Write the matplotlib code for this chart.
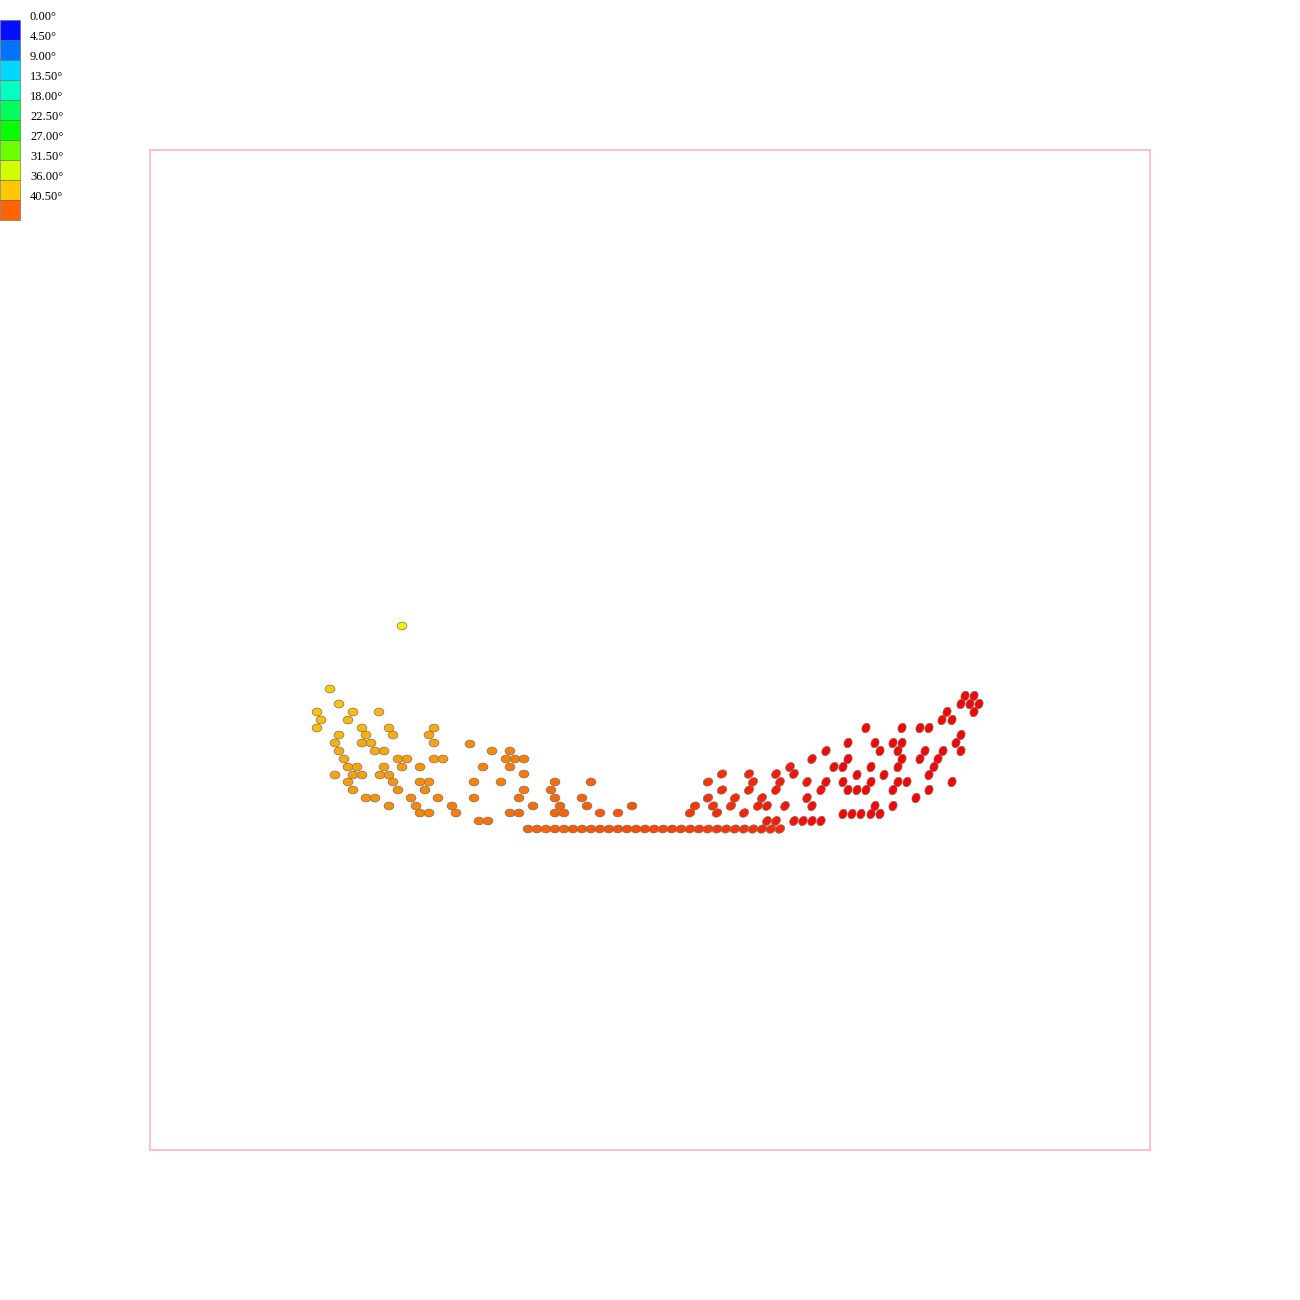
import numpy as np
import matplotlib
matplotlib.use("Agg")
import matplotlib.pyplot as plt
from matplotlib.collections import EllipseCollection
from matplotlib.colors import ListedColormap, Normalize
from matplotlib.patches import Rectangle

# ---------------- data ----------------
legend_labels = ["0.00°", "4.50°", "9.00°", "13.50°", "18.00°", "22.50°",
                 "27.00°", "31.50°", "36.00°", "40.50°"]
legend_starts = [0.0, 4.5, 9.0, 13.5, 18.0, 22.5, 27.0, 31.5, 36.0, 40.5]

# left (yellow / orange) cluster
x_left = [402, 330, 339, 317, 353, 379, 321, 348, 317, 362, 389, 434, 339, 366, 393, 429,
          335, 362, 371, 434, 339, 375, 384, 344, 398, 407, 434, 443, 348, 357, 384, 402,
          420, 335, 353, 362, 380, 389, 348, 393, 420, 429, 353, 398, 425, 366, 375, 411,
          438, 389, 416, 452, 420, 429, 456]
y_left = [626, 689, 704, 712, 712, 712, 720, 720, 728, 728, 728, 728, 735, 735, 735, 735,
          743, 743, 743, 743, 751, 751, 751, 759, 759, 759, 759, 759, 767, 767, 767, 767,
          767, 775, 775, 775, 775, 775, 782, 782, 782, 782, 790, 790, 790, 798, 798, 798,
          798, 806, 806, 806, 813, 813, 813]
v_left = [34.2, 35.8, 36.1, 36.2, 36.4, 36.7, 36.4, 36.6, 36.5, 36.8, 37.0, 37.3, 36.8, 37.0, 37.2, 37.4,
          36.9, 37.1, 37.2, 37.6, 37.1, 37.3, 37.4, 37.3, 37.7, 37.8, 38.0, 38.1, 37.5, 37.6, 37.8, 38.0,
          38.2, 37.5, 37.7, 37.8, 38.0, 38.1, 37.8, 38.3, 38.5, 38.6, 38.0, 38.5, 38.7, 38.3, 38.4, 38.7,
          38.9, 38.6, 38.8, 39.2, 39.0, 39.1, 39.3]

# middle (orange) scatter
x_mid = [470, 492, 510, 506, 515, 524, 483, 510, 524, 474, 501, 555, 591, 524, 551, 474,
         519, 555, 582, 533, 560, 587, 632, 510, 519, 555, 564, 600, 618, 479, 488]
y_mid = [744, 751, 751, 759, 759, 759, 767, 767, 774, 782, 782, 782, 782, 790, 790, 798,
         798, 798, 798, 806, 806, 806, 806, 813, 813, 813, 813, 813, 813, 821, 821]
v_mid = [38.6, 38.9, 39.1, 39.1, 39.2, 39.3, 39.0, 39.3, 39.5, 39.1, 39.4, 40.0, 40.4, 39.7, 40.0, 39.3,
         39.8, 40.2, 40.5, 40.0, 40.3, 40.6, 41.1, 39.9, 40.0, 40.4, 40.5, 40.9, 41.1, 39.7, 39.8]

# bottom row
x_bottom = [528, 537, 546, 555, 564, 573, 582, 591, 600, 609, 618, 627, 636, 645, 654,
            663, 672, 681, 690, 699, 708, 717, 726, 735, 744, 753, 762, 771, 780]
y_bottom = [829] * 29
v_bottom = [40.3, 40.4, 40.5, 40.6, 40.7, 40.8, 40.9, 41.0, 41.1, 41.2, 41.3, 41.4, 41.5, 41.6, 41.7,
            41.8, 41.9, 42.0, 42.1, 42.2, 42.3, 42.4, 42.5, 42.6, 42.7, 42.8, 42.9, 43.0, 43.1]

# orange-red scatter
x_or = [826, 812, 834, 790, 722, 749, 776, 794, 708, 753, 780, 807, 826, 722, 749, 776,
        821, 708, 735, 762, 807, 695, 713, 731, 758, 767, 785, 812, 690, 717, 744, 767,
        776, 794, 803, 812, 821]
y_or = [751, 759, 767, 767, 774, 774, 774, 774, 782, 782, 782, 782, 782, 790, 790, 790,
        790, 798, 798, 798, 798, 806, 806, 806, 806, 806, 806, 806, 813, 813, 813, 821,
        821, 821, 821, 821, 821]
v_or = [44.5, 44.3, 44.6, 43.9, 42.8, 43.2, 43.7, 44.0, 42.6, 43.3, 43.8, 44.2, 44.5, 42.9, 43.3, 43.8,
        44.4, 42.7, 43.1, 43.6, 44.3, 42.5, 42.8, 43.1, 43.5, 43.7, 44.0, 44.4, 42.5, 42.9, 43.3, 43.8,
        43.9, 44.2, 44.3, 44.5, 44.6]

# red cluster
x_red = [965, 974, 961, 970, 979, 947, 974, 942, 952, 866, 902, 920, 929, 961, 848, 875,
         893, 902, 956, 880, 898, 925, 943, 961, 848, 902, 920, 938, 843, 871, 898, 934,
         857, 884, 929, 843, 871, 898, 907, 952, 848, 857, 866, 893, 929, 916, 875, 893,
         843, 852, 861, 871, 880]
y_red = [696, 696, 704, 704, 704, 712, 712, 720, 720, 728, 728, 728, 728, 735, 743, 743,
         743, 743, 743, 751, 751, 751, 751, 751, 759, 759, 759, 759, 767, 767, 767, 767,
         775, 775, 775, 782, 782, 782, 782, 782, 790, 790, 790, 790, 790, 798, 806, 806,
         814, 814, 814, 814, 814]
v_red = [45.0] * 53

x = np.array(x_left + x_mid + x_bottom + x_or + x_red, dtype=float)
y = np.array(y_left + y_mid + y_bottom + y_or + y_red, dtype=float)
v = np.array(v_left + v_mid + v_bottom + v_or + v_red, dtype=float)

# ---------------- style ----------------
# hue runs from blue (0°) down to red (45°)
cmap = ListedColormap(plt.cm.hsv(np.linspace(0, 2 / 3, 512))[::-1])
norm = Normalize(0, 45)

fig = plt.figure(figsize=(13, 13), dpi=100)
fig.patch.set_facecolor("white")

ax = fig.add_axes([150 / 1300, 150 / 1300, 1000 / 1300, 1000 / 1300])
ax.set_xlim(150, 1150)
ax.set_ylim(1150, 150)
ax.set_xticks([])
ax.set_yticks([])
for s in ax.spines.values():
    s.set_color("#ffb6c1")
    s.set_linewidth(1.2)

tilt = -np.interp(v, [40.0, 41.5, 42.5, 43.5, 45.0], [0, 8, 22, 42, 65])
ec = EllipseCollection(widths=np.full(len(x), 9.8), heights=np.full(len(x), 7.8),
                       angles=tilt, units="xy", offsets=np.column_stack([x, y]),
                       offset_transform=ax.transData,
                       facecolors=cmap(norm(v)), edgecolors="#707070", linewidths=0.5)
ax.add_collection(ec)

# legend (pixel coordinates)
lax = fig.add_axes([0, 0, 1, 1], zorder=5)
lax.set_xlim(0, 1300)
lax.set_ylim(1300, 0)
lax.axis("off")
lax.patch.set_alpha(0)
for i, (lab, st) in enumerate(zip(legend_labels, legend_starts)):
    lax.add_patch(Rectangle((0, 20 + 20 * i), 20, 20, facecolor=cmap(norm(st)),
                            edgecolor="#606060", linewidth=0.4))
    lax.text(30, 17 + 20 * i, lab, fontsize=9, family="Liberation Serif",
             va="center", ha="left", color="black")

fig.savefig("out.png", dpi=100)
